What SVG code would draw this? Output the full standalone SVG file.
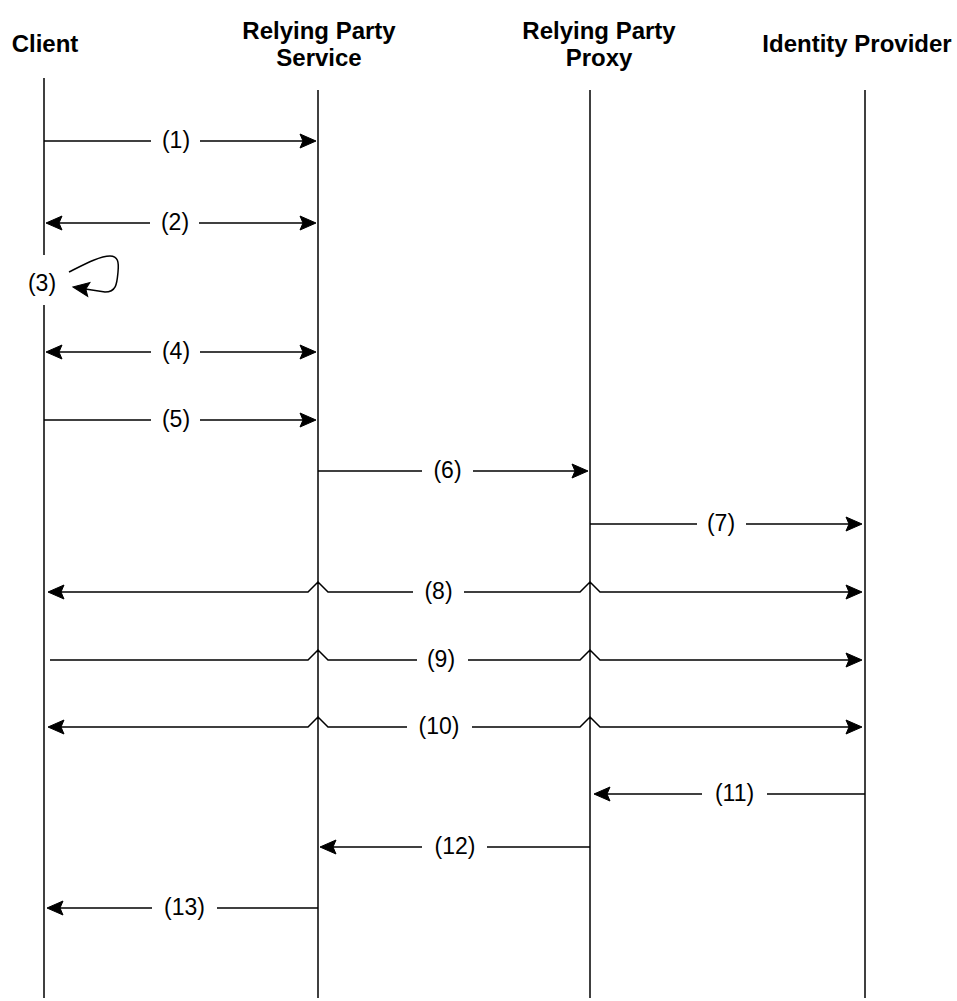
<svg xmlns="http://www.w3.org/2000/svg" xmlns:xlink="http://www.w3.org/1999/xlink" width="957" height="1001" viewBox="0 0 957 1001">
<style>
  .hdr{font-family:"Liberation Sans",Arial,sans-serif;font-weight:bold;font-size:24px;fill:#000;text-anchor:middle}
  .lbl{font-family:"Liberation Sans",Arial,sans-serif;font-size:23px;fill:#000;text-anchor:middle}
  .life{stroke:#000;stroke-width:1.5;fill:none}
  .msg{stroke:#000;stroke-width:1.5;fill:none}
  .bg{fill:#fff}
  .head{fill:#000;stroke:#000;stroke-width:1;stroke-linejoin:miter}
</style>
<defs>
  <path id="ah" class="head" d="M0,0 L-16,-7 L-13,0 L-16,7 Z"/>
</defs>
<rect width="957" height="1001" fill="#fff"/>

<g id="client">
  <text class="hdr" x="45" y="52">Client</text>
  <line class="life" x1="44" y1="78" x2="44" y2="255"/>
  <line class="life" x1="44" y1="305" x2="44" y2="998"/>
</g>
<g id="rps">
  <text class="hdr" x="319" y="39">Relying Party</text>
  <text class="hdr" x="319" y="66">Service</text>
  <line class="life" x1="318" y1="90" x2="318" y2="998"/>
</g>
<g id="rpp">
  <text class="hdr" x="599" y="39">Relying Party</text>
  <text class="hdr" x="599" y="66">Proxy</text>
  <line class="life" x1="590" y1="90" x2="590" y2="998"/>
</g>
<g id="idp">
  <text class="hdr" x="857" y="52">Identity Provider</text>
  <line class="life" x1="865" y1="90" x2="865" y2="998"/>
</g>

<g id="connectors">
  <g id="m1">
    <path class="msg" d="M44 141 L306 141"/>
    <use href="#ah" xlink:href="#ah" transform="translate(316,141)"/>
    <rect class="bg" x="151" y="129" width="49" height="24"/>
    <text class="lbl" x="176" y="148">(1)</text>
  </g>
  <g id="m2">
    <path class="msg" d="M56 223 L306 223"/>
    <use href="#ah" xlink:href="#ah" transform="translate(46,223) rotate(180)"/>
    <use href="#ah" xlink:href="#ah" transform="translate(316,223)"/>
    <rect class="bg" x="150" y="211" width="49" height="24"/>
    <text class="lbl" x="175" y="230">(2)</text>
  </g>
  <g id="m3">
    <path class="msg" d="M69 272 C85 264 100 256 110 256 C118 256 119 262 118 272 C117 282 117 292 105 292 L82 288.5"/>
    <use href="#ah" xlink:href="#ah" transform="translate(73,287) rotate(189)"/>
    <text class="lbl" x="42" y="291">(3)</text>
  </g>
  <g id="m4">
    <path class="msg" d="M56 352 L306 352"/>
    <use href="#ah" xlink:href="#ah" transform="translate(46,352) rotate(180)"/>
    <use href="#ah" xlink:href="#ah" transform="translate(316,352)"/>
    <rect class="bg" x="151" y="340" width="49" height="24"/>
    <text class="lbl" x="176" y="359">(4)</text>
  </g>
  <g id="m5">
    <path class="msg" d="M44 420 L306 420"/>
    <use href="#ah" xlink:href="#ah" transform="translate(316,420)"/>
    <rect class="bg" x="151" y="408" width="49" height="24"/>
    <text class="lbl" x="176" y="427">(5)</text>
  </g>
  <g id="m6">
    <path class="msg" d="M318 471 L578 471"/>
    <use href="#ah" xlink:href="#ah" transform="translate(588,471)"/>
    <rect class="bg" x="422" y="459" width="51" height="24"/>
    <text class="lbl" x="447.5" y="478">(6)</text>
  </g>
  <g id="m7">
    <path class="msg" d="M590 524 L852 524"/>
    <use href="#ah" xlink:href="#ah" transform="translate(862,524)"/>
    <rect class="bg" x="697" y="512" width="49" height="24"/>
    <text class="lbl" x="721" y="531">(7)</text>
  </g>
  <g id="m8">
    <path class="msg" d="M58 592 L308 592 L318 582 L328 592 L580 592 L590 582 L600 592 L852 592"/>
    <use href="#ah" xlink:href="#ah" transform="translate(48,592) rotate(180)"/>
    <use href="#ah" xlink:href="#ah" transform="translate(862,592)"/>
    <rect class="bg" x="413" y="580" width="51" height="24"/>
    <text class="lbl" x="438.5" y="599">(8)</text>
  </g>
  <g id="m9">
    <path class="msg" d="M50 660 L308 660 L318 650 L328 660 L580 660 L590 650 L600 660 L852 660"/>
    <use href="#ah" xlink:href="#ah" transform="translate(862,660)"/>
    <rect class="bg" x="417" y="648" width="51" height="24"/>
    <text class="lbl" x="441" y="667">(9)</text>
  </g>
  <g id="m10">
    <path class="msg" d="M58 727 L308 727 L318 717 L328 727 L580 727 L590 717 L600 727 L852 727"/>
    <use href="#ah" xlink:href="#ah" transform="translate(48,727) rotate(180)"/>
    <use href="#ah" xlink:href="#ah" transform="translate(862,727)"/>
    <rect class="bg" x="407" y="715" width="65" height="24"/>
    <text class="lbl" x="439" y="734">(10)</text>
  </g>
  <g id="m11">
    <path class="msg" d="M865 794 L604 794"/>
    <use href="#ah" xlink:href="#ah" transform="translate(594,794) rotate(180)"/>
    <rect class="bg" x="702" y="782" width="65" height="24"/>
    <text class="lbl" x="734.5" y="801">(11)</text>
  </g>
  <g id="m12">
    <path class="msg" d="M590 847 L330 847"/>
    <use href="#ah" xlink:href="#ah" transform="translate(320,847) rotate(180)"/>
    <rect class="bg" x="422" y="835" width="65" height="24"/>
    <text class="lbl" x="455" y="854">(12)</text>
  </g>
  <g id="m13">
    <path class="msg" d="M318 908 L57 908"/>
    <use href="#ah" xlink:href="#ah" transform="translate(47,908) rotate(180)"/>
    <rect class="bg" x="152" y="896" width="65" height="24"/>
    <text class="lbl" x="184.5" y="915">(13)</text>
  </g>
</g>
</svg>
